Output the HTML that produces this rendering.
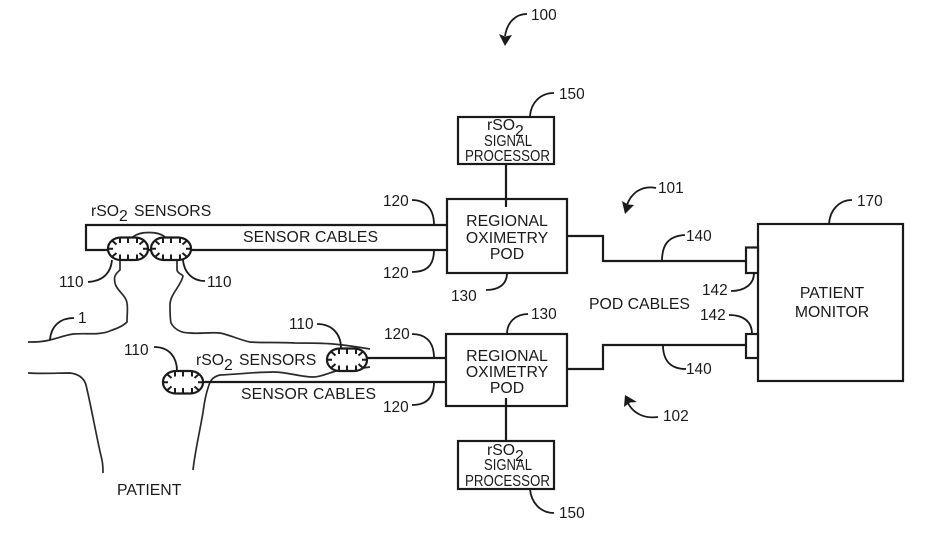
<!DOCTYPE html>
<html><head><meta charset="utf-8">
<style>
html,body{margin:0;padding:0;background:#fff;width:925px;height:554px;overflow:hidden}
svg{display:block}
text{font-family:"Liberation Sans",sans-serif;font-size:15.8px;fill:#1a1a1a}
.n{font-size:15.4px}
.s{font-size:15.5px}
.c{text-anchor:middle}
.l{fill:none;stroke:#1a1a1a;stroke-width:1.8}
.b{fill:#fff;stroke:#1a1a1a;stroke-width:2.2}
.w{fill:none;stroke:#1a1a1a;stroke-width:2.2}
.t{fill:none;stroke:#2a2a2a;stroke-width:1.7;stroke-linejoin:round}
</style></head><body>
<svg width="925" height="554" viewBox="0 0 925 554" xmlns="http://www.w3.org/2000/svg">
<defs>
<g id="sen">
<rect x="0" y="0" width="40" height="22.500" rx="13" ry="11" fill="#fff" stroke="#1a1a1a" stroke-width="2.200"/>
<path d="M12 0v5.500M20 0v5.500M29 0v5.500M12 22.500v-5.500M20 22.500v-5.500M29 22.500v-5.500M4.500 3.500l4 3.500M35.500 3.500l-4 3.500M4.500 19l4-3.500M35.500 19l-4-3.500M0 11.200h5M40 11.200h-5" stroke="#1a1a1a" stroke-width="2" fill="none"/>
</g>
</defs>

<!-- body -->
<path class="t" d="M28 342C36 342 42 342 50 340C58 338 66 335 73 334C85 333 98 335 107 332C115 329 122 327 127 322C127 315 128 308 127 303C126 295 116 290 115 283C114 278 114 275 120 270V260"/>
<path class="t" d="M177 260V270C178 274 182 274 183 276C181 286 170 294 170 305C170 312 170 318 171 323C175 330 182 333 190 333C200 334 210 332 220 333C230 335 240 340 250 342C262 343 280 342 295 343C310 343 322 343 333 344C345 345 358 347 370 349"/>
<path class="t" d="M370 367C358 369 350 369 340 370C330 372 322 377 313 377C300 377 288 372 273 372C258 372 240 374 220 375C212 377 210 381 208 388C204 400 204 408 202 418C199 435 195 452 193 470"/>
<path class="t" d="M28 373C40 374 58 373 70 373C78 374 84 378 86 385C92 410 97 440 102 460C103 465 103 470 103 473"/>

<!-- upper cable -->
<path class="w" d="M447 225H86V250H447"/>
<path class="t" d="M133 237C140 231 158 231 165 237"/>
<!-- lower cables -->
<path class="w" d="M367 358H447M202 382H447"/>

<!-- sensors -->
<use href="#sen" transform="translate(108,237.500)"/>
<use href="#sen" transform="translate(151,237.500)"/>
<use href="#sen" transform="translate(327,348.500)"/>
<use href="#sen" transform="translate(163,371)"/>

<!-- boxes -->
<rect class="b" x="447" y="199" width="120" height="74"/>
<path class="w" d="M506 164V207"/>
<rect class="b" x="458" y="117" width="96" height="47" fill-opacity="0"/>
<rect class="b" x="446" y="334" width="121" height="72"/>
<path class="w" d="M506 398V441"/>
<rect class="b" x="458" y="441" width="96" height="48" fill-opacity="0"/>
<rect class="b" x="758" y="224" width="145" height="157"/>
<rect class="b" x="746" y="247.500" width="12" height="25.500"/>
<rect class="b" x="746" y="334" width="12" height="24"/>

<!-- pod cables -->
<path class="w" d="M567 236H603V261H746"/>
<path class="w" d="M567 369H603V345H746"/>

<!-- leaders -->
<g class="l">
<path d="M530 116C531 103 540 93 554 93"/>
<path d="M412 200C424 200 434 207 434 225"/>
<path d="M412 272C424 272 434 268 434 250"/>
<path d="M486 290C498 290 507 285 507 273"/>
<path d="M412 334C424 334 434 340 434 358"/>
<path d="M412 405C424 405 434 400 434 382"/>
<path d="M507 334C507 322 516 314 528 314"/>
<path d="M530 489C531 502 540 513 554 513"/>
<path d="M662 261C662 245 668 236 685 235"/>
<path d="M663 345C663 360 670 369 686 369"/>
<path d="M754 273C754 284 745 291 731 291"/>
<path d="M752 334C752 322 744 315 729 315"/>
<path d="M829 224C830 209 840 200 852 200"/>
<path d="M112 260C111 272 104 281 88 282"/>
<path d="M183 260C184 272 192 281 205 281"/>
<path d="M50 340C51 326 60 318 74 318"/>
<path d="M341 348C341 335 333 324 317 324"/>
<path d="M177 371C177 358 170 347 154 347"/>
</g>

<!-- arrows -->
<path class="l" d="M656 188C642 185 631 193 627 205" stroke-width="2"/>
<path d="M625 214L622 201L628 204.500L634 205Z" fill="#1a1a1a"/>
<path class="l" d="M658 417C644 419 633 413 628 403" stroke-width="2"/>
<path d="M625 395L637 402L630 402.500L624 407Z" fill="#1a1a1a"/>
<path class="l" d="M527 14C515 14 507 23 505 36" stroke-width="2"/>
<path d="M505 46L499 34L505 36.500L512 35Z" fill="#1a1a1a"/>

<!-- text -->
<text x="91" y="216">rSO</text><text x="119" y="221">2</text><text x="134" y="216">SENSORS</text>
<text x="243" y="242" textLength="135">SENSOR CABLES</text>
<text x="196" y="365">rSO</text><text x="224" y="370">2</text><text x="239" y="365">SENSORS</text>
<text x="241" y="399" textLength="135">SENSOR CABLES</text>
<text x="117" y="495">PATIENT</text>
<text x="589" y="309">POD CABLES</text>

<text class="c" x="507" y="226">REGIONAL</text>
<text class="c" x="507" y="243">OXIMETRY</text>
<text class="c" x="507" y="259">POD</text>
<text class="c" x="507" y="361">REGIONAL</text>
<text class="c" x="507" y="377">OXIMETRY</text>
<text class="c" x="507" y="393">POD</text>
<text class="c" x="832" y="298">PATIENT</text>
<text class="c" x="832" y="317">MONITOR</text>

<text x="487" y="130">rSO</text><text x="515" y="136">2</text>
<text class="s" x="484" y="146" textLength="48" lengthAdjust="spacingAndGlyphs">SIGNAL</text>
<text class="s" x="465" y="161" textLength="85" lengthAdjust="spacingAndGlyphs">PROCESSOR</text>
<text x="487" y="455">rSO</text><text x="515" y="461">2</text>
<text class="s" x="484" y="470" textLength="48" lengthAdjust="spacingAndGlyphs">SIGNAL</text>
<text class="s" x="465" y="486" textLength="85" lengthAdjust="spacingAndGlyphs">PROCESSOR</text>

<text class="n" x="531" y="20">100</text>
<text class="n" x="559" y="99">150</text>
<text class="n" x="658" y="193">101</text>
<text class="n" x="857" y="206">170</text>
<text class="n" x="383" y="206">120</text>
<text class="n" x="383" y="278">120</text>
<text class="n" x="451" y="301">130</text>
<text class="n" x="686" y="241">140</text>
<text class="n" x="702" y="295">142</text>
<text class="n" x="700" y="320">142</text>
<text class="n" x="686" y="374">140</text>
<text class="n" x="663" y="421">102</text>
<text class="n" x="384" y="339">120</text>
<text class="n" x="383" y="412">120</text>
<text class="n" x="531" y="319">130</text>
<text class="n" x="559" y="518">150</text>
<text class="n" x="59" y="287">110</text>
<text class="n" x="207" y="287">110</text>
<text class="n" x="289" y="329">110</text>
<text class="n" x="124" y="355">110</text>
<text class="n" x="78" y="323">1</text>
</svg>
</body></html>
